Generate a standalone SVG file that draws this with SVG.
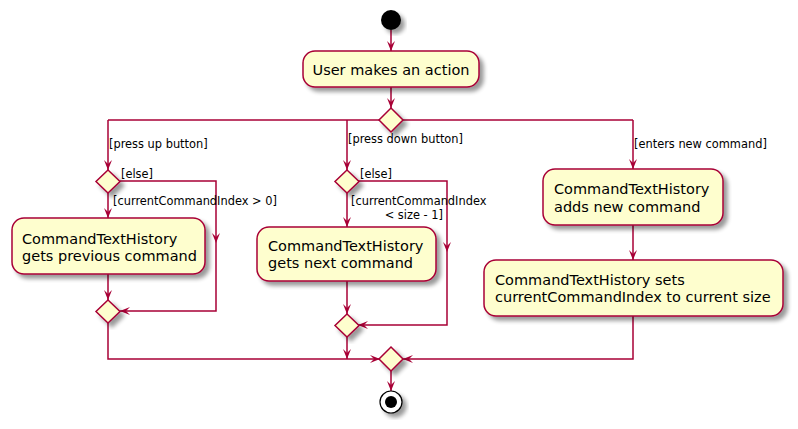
<svg xmlns="http://www.w3.org/2000/svg" width="798" height="429" viewBox="0 0 798 429">
<style>
.act{fill:#FEFECE;stroke:#A80036;stroke-width:1.5;filter:url(#sh)}
.dia{fill:#FEFECE;stroke:#A80036;stroke-width:1.5;filter:url(#sh)}
.ln{fill:none;stroke:#A80036;stroke-width:1.5}
.t{font-family:"DejaVu Sans",sans-serif;font-size:14.5px;fill:#000}
.lb{font-family:"DejaVu Sans",sans-serif;font-size:11.4px;fill:#000}
</style>
<defs>
<filter id="sh" x="-20%" y="-20%" width="150%" height="150%">
<feGaussianBlur in="SourceAlpha" stdDeviation="2"/>
<feOffset dx="4" dy="4" result="b"/>
<feComponentTransfer><feFuncA type="linear" slope="0.4"/></feComponentTransfer>
<feMerge><feMergeNode/><feMergeNode in="SourceGraphic"/></feMerge>
</filter>
<marker id="ah" viewBox="0 0 10 8" refX="10" refY="4" markerWidth="10" markerHeight="8" markerUnits="userSpaceOnUse" orient="auto">
<path d="M0,0 L10,4 L0,8 L4,4 Z" fill="#A80036"/>
</marker>
</defs>
<rect width="798" height="429" fill="#fff"/>
<g id="connectors">
<path class="ln" d="M391,30 V51" marker-end="url(#ah)"/>
<path class="ln" d="M391,87 V108" marker-end="url(#ah)"/>
<path class="ln" d="M108,120 H633"/>
<path class="ln" d="M108,120 V170" marker-end="url(#ah)"/>
<path class="ln" d="M347,120 V170" marker-end="url(#ah)"/>
<path class="ln" d="M633,120 V169" marker-end="url(#ah)"/>
<path class="ln" d="M108,193 V218" marker-end="url(#ah)"/>
<path class="ln" d="M120,181 H216 V243" marker-end="url(#ah)"/>
<path class="ln" d="M216,243 V311 H120" marker-end="url(#ah)"/>
<path class="ln" d="M108,274 V300" marker-end="url(#ah)"/>
<path class="ln" d="M108,323 V359 H380" marker-end="url(#ah)"/>
<path class="ln" d="M347,193 V227" marker-end="url(#ah)"/>
<path class="ln" d="M358,181 H447 V252" marker-end="url(#ah)"/>
<path class="ln" d="M447,252 V325 H358" marker-end="url(#ah)"/>
<path class="ln" d="M347,281 V314" marker-end="url(#ah)"/>
<path class="ln" d="M347,337 V359" marker-end="url(#ah)"/>
<path class="ln" d="M633,225 V260" marker-end="url(#ah)"/>
<path class="ln" d="M633,316 V359 H403" marker-end="url(#ah)"/>
<path class="ln" d="M391,371 V391" marker-end="url(#ah)"/>
<text class="lb" x="109" y="148">[press up button]</text>
<text class="lb" x="121" y="178">[else]</text>
<text class="lb" x="113" y="205">[currentCommandIndex &gt; 0]</text>
<text class="lb" x="348" y="143">[press down button]</text>
<text class="lb" x="360" y="178">[else]</text>
<text class="lb" x="351" y="205">[currentCommandIndex</text>
<text class="lb" x="443" y="219" text-anchor="end">&lt; size - 1]</text>
<text class="lb" x="634" y="148">[enters new command]</text>
</g>
<g id="start"><circle cx="391" cy="20" r="10" fill="#000" filter="url(#sh)"/></g>
<g id="user-action"><rect class="act" x="303" y="51" width="176" height="36" rx="12"/><text class="t" x="391" y="75" text-anchor="middle">User makes an action</text></g>
<g id="d-main"><polygon class="dia" points="391,108 403,120 391,132 379,120"/></g>
<g id="d-up"><polygon class="dia" points="108,170 120,181.5 108,193 96,181.5"/></g>
<g id="prev"><rect class="act" x="12" y="218" width="193" height="56" rx="12"/><text class="t" x="22" y="244">CommandTextHistory</text><text class="t" x="22" y="261">gets previous command</text></g>
<g id="m-up"><polygon class="dia" points="108,300 120,311.5 108,323 96,311.5"/></g>
<g id="d-down"><polygon class="dia" points="347,170 359,181.5 347,193 335,181.5"/></g>
<g id="next"><rect class="act" x="257" y="227" width="179" height="54" rx="12"/><text class="t" x="268" y="251">CommandTextHistory</text><text class="t" x="268" y="268">gets next command</text></g>
<g id="m-down"><polygon class="dia" points="347,314 359,325.5 347,337 335,325.5"/></g>
<g id="add"><rect class="act" x="543" y="169" width="180" height="56" rx="12"/><text class="t" x="554" y="194">CommandTextHistory</text><text class="t" x="554" y="212">adds new command</text></g>
<g id="sets"><rect class="act" x="484" y="260" width="299" height="56" rx="12"/><text class="t" x="495" y="285">CommandTextHistory sets</text><text class="t" x="495" y="302">currentCommandIndex to current size</text></g>
<g id="m-final"><polygon class="dia" points="391,347 403,359 391,371 379,359"/></g>
<g id="end"><circle cx="391" cy="402" r="11" fill="#fff" stroke="#000" stroke-width="1.2" filter="url(#sh)"/><circle cx="391" cy="402" r="6" fill="#000"/></g>
</svg>
